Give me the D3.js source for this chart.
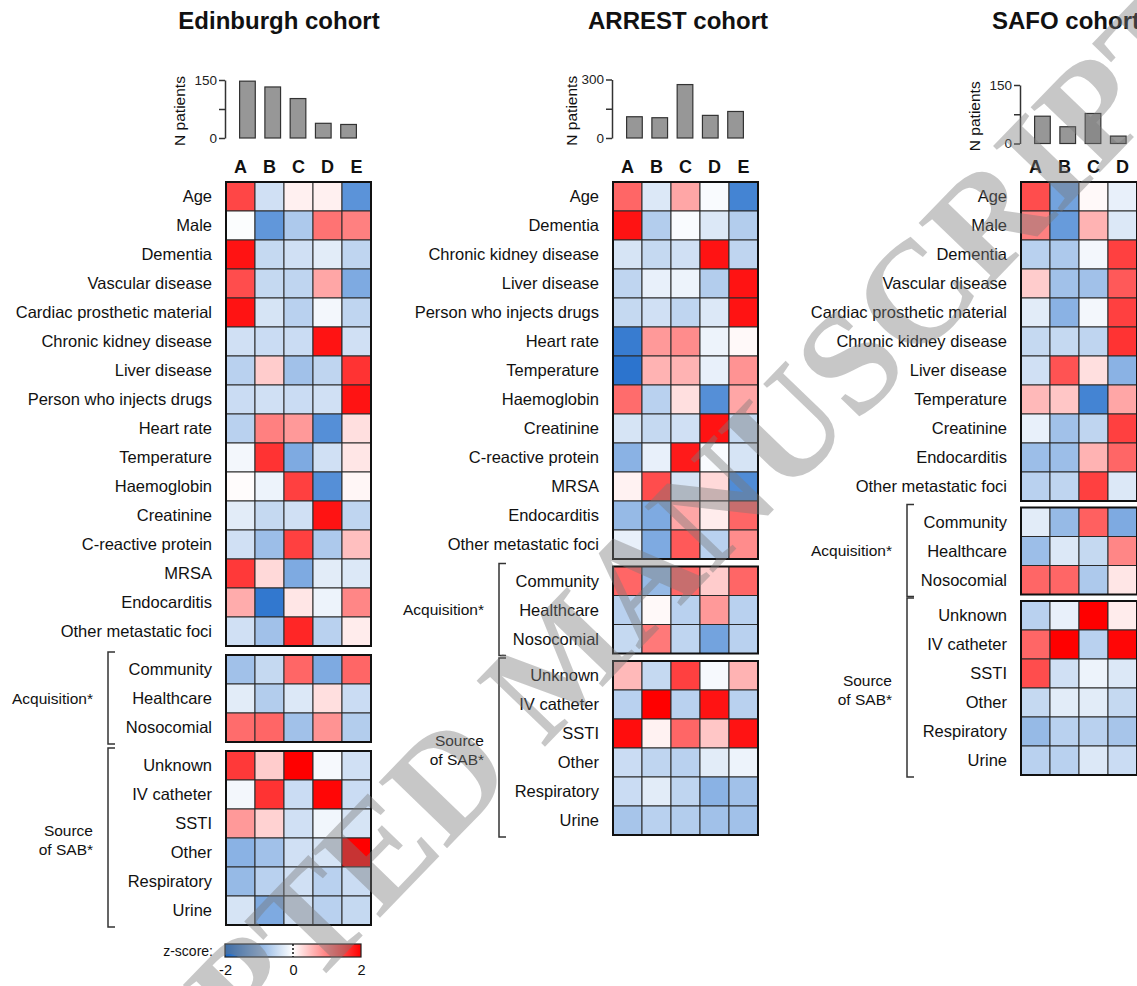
<!DOCTYPE html>
<html>
<head>
<meta charset="utf-8">
<script src="https://cdn.jsdelivr.net/npm/d3@7"></script>
<style>
  body { margin: 0; background: #fff; }
  svg { display: block; font-family: "Liberation Sans", Arial, sans-serif; }
</style>
</head>
<body>
<div id="chart"></div>
<script>
// ---- data ----
var columns = ["A", "B", "C", "D", "E"];
var acqRows = ["Community", "Healthcare", "Nosocomial"];
var sourceRows = ["Unknown", "IV catheter", "SSTI", "Other", "Respiratory", "Urine"];

// Edinburgh cohort
var edinRows = ["Age", "Male", "Dementia", "Vascular disease", "Cardiac prosthetic material",
  "Chronic kidney disease", "Liver disease", "Person who injects drugs", "Heart rate",
  "Temperature", "Haemoglobin", "Creatinine", "C-reactive protein", "MRSA", "Endocarditis",
  "Other metastatic foci"];
var edinN = [147, 132, 102, 38, 35];
var edinZ = [
  [1.45, -0.4, 0.12, 0.12, -1.4],
  [-0.03, -1.35, -0.7, 1.1, 1.0],
  [1.85, -0.5, -0.4, -0.25, -0.55],
  [1.4, -0.5, -0.55, 0.7, -1.1],
  [1.85, -0.35, -0.6, -0.1, -0.55],
  [-0.4, -0.45, -0.45, 1.85, -0.4],
  [-0.6, 0.4, -0.8, -0.55, 1.6],
  [-0.45, -0.4, -0.45, -0.4, 1.85],
  [-0.6, 1.0, 0.8, -1.45, 0.25],
  [-0.1, 1.6, -1.1, -0.4, 0.2],
  [0.02, -0.15, 1.5, -1.45, 0.07],
  [-0.25, -0.5, -0.4, 1.85, -0.55],
  [-0.4, -0.85, 1.5, -0.7, 0.5],
  [1.55, 0.3, -1.1, -0.25, -0.3],
  [0.65, -1.75, 0.2, -0.15, 0.95],
  [-0.4, -0.8, 1.7, -0.6, 0.15]
];
var edinAcqZ = [
  [-0.8, -0.5, 1.2, -1.1, 1.2],
  [-0.25, -0.65, -0.3, 0.25, -0.45],
  [1.15, 1.2, -0.8, 0.85, -0.65]
];
var edinSourceZ = [
  [1.55, 0.4, 2.0, -0.08, -0.4],
  [-0.1, 1.6, -0.45, 1.95, -0.45],
  [0.8, 0.35, -0.4, -0.12, -0.35],
  [-1.0, -0.8, -0.4, -0.35, 2.0],
  [-0.9, -0.6, -0.4, -0.6, -0.45],
  [-0.35, -1.1, -0.4, -0.6, -0.5]
];

// ARREST cohort
var arrestRows = ["Age", "Dementia", "Chronic kidney disease", "Liver disease",
  "Person who injects drugs", "Heart rate", "Temperature", "Haemoglobin", "Creatinine",
  "C-reactive protein", "MRSA", "Endocarditis", "Other metastatic foci"];
var arrestN = [109, 104, 274, 116, 136];
var arrestZ = [
  [1.2, -0.3, 0.7, -0.05, -1.6],
  [1.85, -0.65, -0.05, -0.3, -0.65],
  [-0.35, -0.5, -0.4, 1.85, -0.55],
  [-0.55, -0.2, -0.15, -0.65, 1.85],
  [-0.5, -0.4, -0.55, -0.3, 1.85],
  [-1.7, 0.8, 0.9, -0.15, 0.05],
  [-1.8, 0.6, 0.6, -0.2, 0.85],
  [1.15, -0.6, 0.25, -1.45, 0.7],
  [-0.35, -0.5, -0.4, 1.85, -0.5],
  [-1.0, -0.2, 1.8, -0.05, -0.35],
  [0.1, 1.4, -0.35, 0.3, -1.5],
  [-0.9, -1.1, 0.7, 0.15, 1.2],
  [-0.2, -1.1, 1.3, -0.6, 0.9]
];
var arrestAcqZ = [
  [1.2, -0.9, 1.2, 0.4, 1.2],
  [-0.6, 0.05, -0.6, 0.8, -0.6],
  [-0.5, 1.05, -0.55, -1.2, -0.6]
];
var arrestSourceZ = [
  [0.55, -0.5, 1.5, -0.08, 0.6],
  [-0.6, 2.0, -0.6, 1.85, -0.6],
  [1.9, 0.1, 1.2, 0.45, 1.85],
  [-0.45, -0.55, -0.6, -0.25, -0.15],
  [-0.45, -0.25, -0.55, -1.0, -0.8],
  [-0.75, -0.6, -0.65, -0.8, -0.8]
];

// SAFO cohort (only columns A-D are inside the picture)
var safoRows = ["Age", "Male", "Dementia", "Vascular disease", "Cardiac prosthetic material",
  "Chronic kidney disease", "Liver disease", "Temperature", "Creatinine", "Endocarditis",
  "Other metastatic foci"];
var safoN = [70, 43, 77, 19];
var safoZ = [
  [1.4, -1.2, 0.05, -0.2],
  [1.0, -1.3, 0.6, -0.3],
  [-0.6, -0.7, -0.1, 1.5],
  [0.4, -0.8, -0.8, 1.3],
  [-0.25, -1.0, -0.1, 1.5],
  [-0.5, -0.5, -0.55, 1.6],
  [-0.4, 1.35, 0.25, -1.0],
  [0.55, 0.45, -1.6, 0.7],
  [-0.2, -0.8, -0.55, 1.5],
  [-0.85, -0.85, 0.6, 1.2],
  [-0.6, -0.55, 1.5, -0.3]
];
var safoAcqZ = [
  [-0.25, -0.9, 1.25, -1.1],
  [-0.85, -0.3, -0.5, 0.95],
  [1.2, 1.2, -0.7, 0.2]
];
var safoSourceZ = [
  [-0.6, -0.2, 2.0, 0.15],
  [1.2, 2.0, -0.6, 1.95],
  [1.4, -0.4, -0.15, -0.3],
  [-0.5, -0.25, -0.25, -0.5],
  [-0.9, -0.6, -0.6, -0.75],
  [-0.6, -0.6, -0.3, -0.45]
];

var zTicks = [-2, 0, 2];

// ---- drawing ----
var width = 1137, height = 986;
var cell = 29;

var svg = d3.select("#chart").append("svg")
  .attr("width", width)
  .attr("height", height);

var color = d3.scaleLinear()
  .domain([-2, 0, 2])
  .range(["#1565c8", "#ffffff", "#ff0000"])
  .clamp(true);

var panels = [
  { title: "Edinburgh cohort", titleX: 279, left: 226, gap: 9, rows: edinRows, n: edinN,
    nMax: 150, barBase: 138, barTop: 80, nLabelX: 180,
    z: edinZ, acqZ: edinAcqZ, srcZ: edinSourceZ, bracketX: 108 },
  { title: "ARREST cohort", titleX: 678, left: 613, gap: 7.5, rows: arrestRows, n: arrestN,
    nMax: 300, barBase: 138, barTop: 79.5, nLabelX: 572,
    z: arrestZ, acqZ: arrestAcqZ, srcZ: arrestSourceZ, bracketX: 499 },
  { title: "SAFO cohort", titleX: 1066, left: 1021, gap: 6.5, rows: safoRows, n: safoN,
    nMax: 150, barBase: 143.5, barTop: 85, nLabelX: 975,
    z: safoZ, acqZ: safoAcqZ, srcZ: safoSourceZ, bracketX: 907 }
];

panels.forEach(drawPanel);

function drawPanel(p) {
  var g = svg.append("g");
  var shown = columns.slice(0, p.n.length);

  // title
  g.append("text")
    .attr("x", p.titleX)
    .attr("y", 29)
    .attr("text-anchor", "middle")
    .attr("font-size", 24)
    .attr("font-weight", "bold")
    .attr("fill", "#111")
    .text(p.title);

  // bar chart of patient numbers
  var xb = d3.scaleBand()
    .domain(columns)
    .range([p.left + 4, p.left + 140])
    .padding(0.38);
  var yb = d3.scaleLinear()
    .domain([0, p.nMax])
    .range([p.barBase, p.barTop]);

  g.selectAll(".bar")
    .data(p.n)
    .enter()
    .append("rect")
    .attr("class", "bar")
    .attr("x", function (d, i) { return xb(columns[i]); })
    .attr("y", function (d) { return yb(d); })
    .attr("width", xb.bandwidth())
    .attr("height", function (d) { return p.barBase - yb(d); })
    .attr("fill", "#979797")
    .attr("stroke", "#333")
    .attr("stroke-width", 1.2);

  var yAxis = d3.axisLeft(yb)
    .tickValues([0, p.nMax / 2, p.nMax])
    .tickFormat(function (d) { return d === p.nMax / 2 ? "" : d; })
    .tickSize(6)
    .tickSizeOuter(0)
    .tickPadding(2);

  var ax = g.append("g")
    .attr("transform", "translate(" + (p.left - 1) + ",0)")
    .call(yAxis);
  ax.select(".domain").attr("stroke", "#333").attr("stroke-width", 1.5);
  ax.selectAll(".tick line").attr("stroke", "#333").attr("stroke-width", 1.5);
  ax.selectAll(".tick text")
    .attr("font-size", 13.5)
    .attr("fill", "#222")
    .attr("font-family", "Liberation Sans, Arial, sans-serif");

  g.append("text")
    .attr("transform", "translate(" + p.nLabelX + "," + ((p.barBase + p.barTop) / 2 + 2) + ") rotate(-90)")
    .attr("text-anchor", "middle")
    .attr("dy", "0.35em")
    .attr("font-size", 15.5)
    .attr("fill", "#111")
    .text("N patients");

  // heatmap columns
  var x = d3.scaleBand()
    .domain(columns)
    .range([p.left, p.left + columns.length * cell]);

  g.selectAll(".colLabel")
    .data(shown)
    .enter()
    .append("text")
    .attr("class", "colLabel")
    .attr("x", function (d) { return x(d) + x.bandwidth() / 2; })
    .attr("y", 172.5)
    .attr("text-anchor", "middle")
    .attr("font-size", 18)
    .attr("font-weight", "bold")
    .attr("fill", "#111")
    .text(function (d) { return d; });

  var groups = [
    { rows: p.rows, z: p.z },
    { rows: acqRows, z: p.acqZ, label: ["Acquisition*"] },
    { rows: sourceRows, z: p.srcZ, label: ["Source", "of SAB*"] }
  ];

  var top = 182;
  groups.forEach(function (gr) {
    var bottom = top + gr.rows.length * cell;
    var y = d3.scaleBand().domain(gr.rows).range([top, bottom]);
    var nCols = gr.z[0].length;

    var rowsG = g.append("g");
    gr.z.forEach(function (vals, r) {
      rowsG.selectAll(null)
        .data(vals)
        .enter()
        .append("rect")
        .attr("x", function (d, c) { return x(columns[c]); })
        .attr("y", y(gr.rows[r]))
        .attr("width", x.bandwidth())
        .attr("height", y.bandwidth())
        .attr("fill", function (d) { return color(d); })
        .attr("stroke", "#2a2a2a")
        .attr("stroke-width", 1);
    });

    // outline of the block
    g.append("rect")
      .attr("x", p.left)
      .attr("y", top)
      .attr("width", nCols * cell)
      .attr("height", bottom - top)
      .attr("fill", "none")
      .attr("stroke", "#111")
      .attr("stroke-width", 2);

    // row labels
    g.selectAll(null)
      .data(gr.rows)
      .enter()
      .append("text")
      .attr("x", p.left - 14)
      .attr("y", function (d) { return y(d) + y.bandwidth() / 2; })
      .attr("dy", "0.35em")
      .attr("text-anchor", "end")
      .attr("font-size", 16.5)
      .attr("fill", "#111")
      .text(function (d) { return d; });

    // bracket with group label
    if (gr.label) {
      var b0 = top - 3, b1 = bottom + 2;
      g.append("path")
        .attr("d", "M" + (p.bracketX + 7) + "," + b0 + "H" + p.bracketX + "V" + b1 + "H" + (p.bracketX + 7))
        .attr("fill", "none")
        .attr("stroke", "#333")
        .attr("stroke-width", 1.5);
      var mid = (top + bottom) / 2 + (gr.label.length > 1 ? 2 : 0);
      g.selectAll(null)
        .data(gr.label)
        .enter()
        .append("text")
        .attr("x", p.bracketX - 15)
        .attr("y", function (d, i) { return mid + (i - (gr.label.length - 1) / 2) * 19; })
        .attr("dy", "0.35em")
        .attr("text-anchor", "end")
        .attr("font-size", 15.5)
        .attr("fill", "#111")
        .text(function (d) { return d; });
    }
    top = bottom + p.gap;
  });
}

// ---- colour legend ----
var lx = d3.scaleLinear().domain([-2, 2]).range([225, 361]);
var defs = svg.append("defs");
var grad = defs.append("linearGradient").attr("id", "zgrad");
d3.range(-2, 2.01, 0.5).forEach(function (v) {
  grad.append("stop")
    .attr("offset", ((v + 2) / 4 * 100) + "%")
    .attr("stop-color", color(v));
});

var leg = svg.append("g");
leg.append("rect")
  .attr("x", lx(-2))
  .attr("y", 944)
  .attr("width", lx(2) - lx(-2))
  .attr("height", 13)
  .attr("fill", "url(#zgrad)")
  .attr("stroke", "#222")
  .attr("stroke-width", 1.2);
leg.append("line")
  .attr("x1", lx(0)).attr("x2", lx(0))
  .attr("y1", 944).attr("y2", 957)
  .attr("stroke", "#111")
  .attr("stroke-width", 1.5)
  .attr("stroke-dasharray", "2,2");
leg.append("text")
  .attr("x", 213)
  .attr("y", 951)
  .attr("dy", "0.35em")
  .attr("text-anchor", "end")
  .attr("font-size", 14)
  .attr("fill", "#111")
  .text("z-score:");

var lAxis = d3.axisBottom(lx)
  .tickValues(zTicks)
  .tickFormat(function (d) { return String(d); })
  .tickSize(0)
  .tickPadding(8);
var lg = leg.append("g").attr("transform", "translate(0,957)").call(lAxis);
lg.select(".domain").remove();
lg.selectAll("text")
  .attr("font-size", 14.5)
  .attr("fill", "#111")
  .attr("font-family", "Liberation Sans, Arial, sans-serif");

// ---- watermark ----
svg.append("text")
  .attr("transform", "translate(595,695) rotate(-46)")
  .attr("text-anchor", "middle")
  .attr("font-family", "Liberation Serif, Times New Roman, serif")
  .attr("font-weight", "bold")
  .attr("font-size", 145)
  .attr("fill", "#7a7a7a")
  .attr("fill-opacity", 0.42)
  .text("ACCEPTED MANUSCRIPT");
</script>
</body>
</html>
